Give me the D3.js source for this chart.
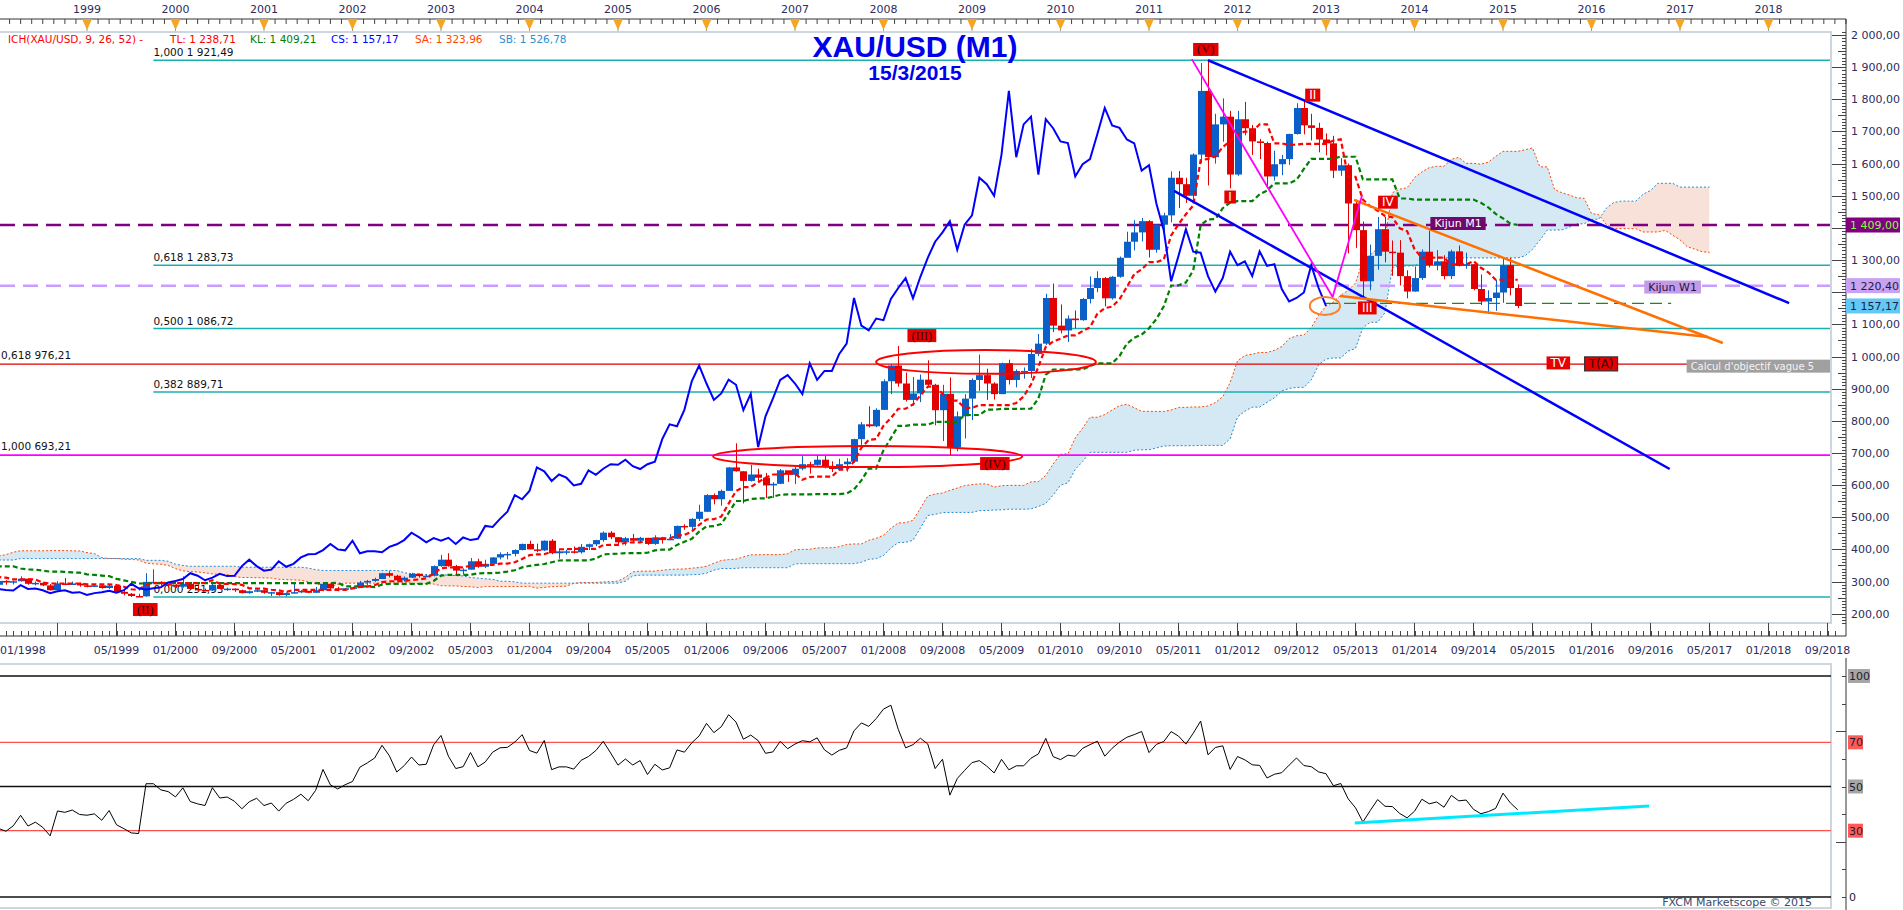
<!DOCTYPE html>
<html><head><meta charset="utf-8">
<script src="https://cdn.jsdelivr.net/npm/d3@7"></script>
<style>body{margin:0;background:#fff;overflow:hidden}svg{display:block}</style>
</head><body><svg id="c" width="1903" height="910"></svg>
<script>
// ---------------- DATA (monthly XAU/USD, first bar = Jan 1991) ----------------
const firstYear = 1991;
const open = [
386,366,363,356,358,357,368,362,347,355,358,366,
353,354,353,342,337,337,343,357,340,349,339,334,
333,330,327,337,355,377,378,401,372,355,369,371,
391,378,381,390,377,387,386,384,386,395,383,383,
383,375,376,392,389,386,387,383,382,384,383,387,
387,405,400,396,392,390,382,385,387,379,379,371,
369,345,362,349,340,345,334,326,325,332,311,296,
290,302,297,301,309,293,296,288,273,294,292,294,
288,287,288,280,287,268,262,255,254,299,299,292,
290,284,293,277,274,272,289,277,278,273,264,270,
273,265,267,258,264,267,271,265,273,293,279,275,
279,282,297,302,308,326,318,304,312,324,317,318,
348,368,348,334,337,363,346,355,375,385,386,398,
417,400,397,427,388,394,394,391,408,416,429,452,
438,422,435,427,436,417,437,429,433,473,470,495,
517,569,556,582,655,643,613,633,623,599,604,646,
632,651,665,663,679,659,650,665,673,743,789,783,
834,923,972,916,865,885,928,912,833,884,718,814,
869,927,942,916,883,979,927,955,955,1008,1040,1182,
1096,1081,1118,1113,1179,1213,1244,1181,1248,1307,1357,1386,
1421,1332,1410,1439,1556,1536,1500,1628,1826,1620,1722,1746,
1566,1738,1710,1669,1664,1560,1598,1614,1692,1773,1719,1711,
1675,1663,1578,1595,1476,1393,1234,1313,1396,1326,1323,1250,
1202,1244,1326,1284,1296,1250,1327,1282,1287,1210,1171,1182,
1199,1284,1213];
const high = [
403,370,367,362,361,370,371,363,358,362,368,367,
360,357,354,343,341,345,360,358,350,349,340,337,
334,331,338,358,378,380,408,406,372,372,374,393,
394,385,391,392,389,396,389,388,398,396,390,384,
383,379,395,396,390,391,390,388,386,387,389,390,
408,417,403,397,396,390,389,390,388,385,383,373,
369,365,362,349,350,346,335,331,336,335,315,300,
306,304,303,316,310,300,298,292,301,311,300,297,
293,292,290,290,289,273,264,262,326,338,301,294,
292,316,296,292,278,294,290,281,279,275,272,276,
274,268,268,266,294,274,271,283,294,294,284,280,
284,302,305,312,327,332,321,316,327,325,323,350,
383,388,352,341,373,371,368,376,391,392,400,418,
427,418,428,432,398,399,409,417,418,430,456,457,
438,439,448,439,436,444,439,448,474,478,497,539,
572,574,586,656,730,643,663,651,638,609,650,641,
656,690,672,693,691,674,682,684,744,796,845,839,
929,976,1033,950,936,944,988,915,912,935,829,883,
932,1006,962,920,981,990,960,966,1024,1070,1195,1227,
1162,1128,1143,1182,1249,1265,1247,1250,1311,1388,1424,1431,
1424,1411,1447,1576,1577,1556,1632,1913,1921.49,1755,1803,1764,
1764,1792,1720,1677,1668,1640,1627,1693,1788,1796,1755,1727,
1694,1686.35,1617,1600,1488,1420,1348,1434,1434,1361,1362,1268,
1280,1333,1392,1331,1315,1332,1345.35,1323,1288,1255,1206,1239,
1307,1307,1224];
const low = [
366,357,350,352,353,356,358,343,346,355,356,351,
350,350,341,335,334,336,342,337,339,338,332,331,
327,326,326,336,353,365,376,345,349,352,360,370,
377,376,378,369,375,382,380,376,385,380,381,375,
372,371,373,388,383,384,382,380,381,380,381,385,
386,399,393,389,388,380,380,384,377,376,370,367,
342,340,347,335,337,333,315,318,320,309,291,283,
278,290,291,300,290,288,286,272,273,289,290,284,
282,283,278,277,267,257,251.93,252,253,295,287,280,
280,281,275,273,270,271,276,271,268,263,262,268,
262,255,256,254,263,264,264,265,270,277,270,271,
277,281,288,299,308,313,302,300,311,312,315,316,
346,346,320,322,337,343,342,354,369,369,378,397,
400,391,395,385,371,384,387,387,398,410,424,432,
415,412,424,422,414,414,418,429,433,461,458,488,
516,540,536,582,642,543,611,613,560,560,603,610,
603,646,636,661,652,641,646,642,669,725,779,780,
834,883,906,860,847,858,905,786,737,692,705,745,
802,893,865,866,883,913,904,931,933,1001,1036,1076,
1072,1045,1088,1111,1165,1200,1156,1177,1245,1310,1330,1358,
1308,1323,1381,1417,1462,1478,1478,1601,1532,1600,1668,1523,
1562,1688,1627,1614,1527,1547,1564,1596,1690,1691,1672,1635,
1626,1555,1562,1321,1338,1180,1206,1270,1293,1251,1221,1181,
1202,1238,1277,1268,1240,1241,1280,1273,1206,1160,1132.07,1142,
1167,1190,1150];
const close = [
366,363,356,358,357,368,362,347,355,358,366,353,
354,353,342,337,337,343,357,340,349,339,334,333,
330,327,337,355,377,378,401,372,355,369,371,391,
378,381,390,377,387,386,384,386,395,383,383,383,
375,376,392,389,386,387,383,382,384,383,387,387,
405,400,396,392,390,382,385,387,379,379,371,369,
345,362,349,340,345,334,326,325,332,311,296,290,
302,297,301,309,293,296,288,273,294,292,294,288,
287,288,280,287,268,262,255,254,299,299,292,290,
284,293,277,274,272,289,277,278,273,264,270,273,
265,267,258,264,267,271,265,273,293,279,275,279,
282,297,302,308,326,318,304,312,324,317,318,348,
368,348,334,337,363,346,355,375,385,386,398,417,
400,397,427,388,394,394,391,408,416,429,452,438,
422,435,427,436,417,437,429,433,473,470,495,517,
569,556,582,655,643,613,633,623,599,604,646,632,
651,665,663,679,659,650,665,673,743,789,783,834,
923,972,916,865,885,928,912,833,884,718,814,869,
927,942,916,883,979,927,955,955,1008,1040,1182,1096,
1081,1118,1113,1179,1213,1244,1181,1248,1307,1357,1386,1421,
1332,1410,1439,1556,1536,1500,1628,1826,1620,1722,1746,1566,
1738,1710,1669,1664,1560,1598,1614,1692,1773,1719,1711,1675,
1663,1578,1595,1476,1393,1234,1313,1396,1326,1323,1250,1202,
1244,1326,1284,1296,1250,1327,1282,1287,1210,1171,1182,1199,
1284,1213,1157.17];

// Ichimoku / RSI settings
const tenkanLen = 9, kijunLen = 26, spanBLen = 52, shift = 26, rsiLen = 14;

// Axis ticks (1 200 and 1 400 are hidden behind the marker boxes in the reference)
const priceTicks = [200,300,400,500,600,700,800,900,1000,1100,1300,1500,1600,1700,1800,1900,2000];
const yearLabels = [1999,2000,2001,2002,2003,2004,2005,2006,2007,2008,2009,2010,2011,2012,2013,2014,2015,2016,2017,2018];
const rsiLevels = [100,70,50,30,0];

// Annotations (month index: 0 = Jan 2000; prices)
const fibLevels = [1921.49, 1283.73, 1086.72, 889.71, 251.93];
const fibLabels = ["1,000 1 921,49","0,618 1 283,73","0,500 1 086,72","0,382 889,71","0,000 251,93"];
const fibStartMonth = -3;
const fib2Levels = [976.21, 693.21];
const fib2Labels = ["0,618 976,21","1,000 693,21"];
const kijunM1 = 1409.00, kijunW1 = 1220.40;
const supportLevel = 1165, supportFrom = 156, supportTo = 202.8;
const blueTrends = [[[140,1921.49],[218.8,1166]], [[135.4,1515],[202.6,650]]];
const orangeTrends = [[[159.8,1487],[209.8,1042]], [[157.9,1188],[207.8,1061]]];
const waveLine = [[137.8,1925],[156.9,1185],[160.9,1502]];
const ellipses = [[95,124.8,1020,946,"#ff0000"],[72.9,114.8,722,656,"#ff0000"],[153.8,157.9,1185,1129,"#ff7f27"]];
const waveTags = [
  [139.7,1955,"(V)","serif"],[154.2,1813,"II","sans"],[143.0,1496,"I","sans"],
  [164.4,1480,"IV","sans"],[161.6,1151,"III","sans"],[101.2,1065,"(III)","serif"],
  [111.1,667,"(IV)","serif"],[-4.1,213,"(II)","serif"],[187.5,980,"TV","sans"],[193.3,977,"T(A)","boxed"]];
const rsiTrend = [[159.9,33.5],[199.8,41.2]];

// ---------------- SETUP ----------------
const svg = d3.select("#c");
const PR = 1831, PT = 32, PB = 623, AX = 1846, RT = 664, RB = 908;
const x = d3.scaleLinear().domain([0,216]).range([175.5,1768.5]);
const y = d3.scaleLinear().domain([200,2000]).range([613.7,35]);
const yr = d3.scaleLinear().domain([0,100]).range([897,676]);
const mOf = i => (firstYear-2000)*12 + i;
const N = close.length;
const SANS = "'DejaVu Sans', sans-serif";
const navy = "#2c2c5e";
const fmt = d3.formatLocale({decimal:",",thousands:" ",grouping:[3],currency:["",""]}).format(",.2f");

// Indicators
function mid(n,i){ if(i<n-1) return null; let h=-Infinity,l=Infinity; for(let k=i-n+1;k<=i;k++){h=Math.max(h,high[k]);l=Math.min(l,low[k]);} return (h+l)/2; }
const tenkan = d3.range(N).map(i=>mid(tenkanLen,i));
const kijun = d3.range(N).map(i=>mid(kijunLen,i));
const spanA = d3.range(N).map(i=> tenkan[i]!=null && kijun[i]!=null ? (tenkan[i]+kijun[i])/2 : null);
const spanB = d3.range(N).map(i=>mid(spanBLen,i));
const rsi = new Array(N).fill(null);
{ let ag=0, al=0;
  for(let i=1;i<N;i++){ const ch=close[i]-close[i-1], g=Math.max(ch,0), l=Math.max(-ch,0);
    if(i<=rsiLen){ ag+=g; al+=l; if(i===rsiLen){ag/=rsiLen; al/=rsiLen; rsi[i]=100-100/(1+ag/al);} }
    else { ag=(ag*(rsiLen-1)+g)/rsiLen; al=(al*(rsiLen-1)+l)/rsiLen; rsi[i]= al===0?100:100-100/(1+ag/al); } } }

const defs = svg.append("defs");
defs.append("clipPath").attr("id","clipMain").append("rect").attr("x",0).attr("y",PT).attr("width",PR).attr("height",PB-PT);
defs.append("clipPath").attr("id","clipRsi").append("rect").attr("x",0).attr("y",RT).attr("width",PR).attr("height",RB-RT);

// ---------------- MAIN PANEL ----------------
const main = svg.append("g").attr("clip-path","url(#clipMain)");

// cloud
const cloud = d3.range(N).filter(i=>spanA[i]!=null && spanB[i]!=null).map(i=>({m:mOf(i)+shift,a:spanA[i],b:spanB[i]}));
defs.append("clipPath").attr("id","abovB").append("path").attr("d", d3.area().x(d=>x(d.m)).y0(0).y1(d=>y(d.b))(cloud));
defs.append("clipPath").attr("id","belowB").append("path").attr("d", d3.area().x(d=>x(d.m)).y0(d=>y(d.b)).y1(1000)(cloud));
const between = d3.area().x(d=>x(d.m)).y0(d=>y(d.b)).y1(d=>y(d.a));
main.append("g").attr("clip-path","url(#abovB)").append("path").attr("d",between(cloud)).attr("fill","#d5e9f5");
main.append("g").attr("clip-path","url(#belowB)").append("path").attr("d",between(cloud)).attr("fill","#f8e1d8");
main.append("path").attr("d",d3.line().x(d=>x(d.m)).y(d=>y(d.a))(cloud)).attr("fill","none").attr("stroke","#ff4500").attr("stroke-width",1).attr("stroke-dasharray","2,2");
main.append("path").attr("d",d3.line().x(d=>x(d.m)).y(d=>y(d.b))(cloud)).attr("fill","none").attr("stroke","#1e8ad6").attr("stroke-width",1).attr("stroke-dasharray","2,2");

// horizontal levels
fibLevels.forEach((p,k)=>{
  main.append("line").attr("x1",x(fibStartMonth)).attr("x2",PR).attr("y1",y(p)).attr("y2",y(p)).attr("stroke","#1aafb0").attr("stroke-width",1.5);
  main.append("text").attr("x",x(fibStartMonth)).attr("y",y(p)-4).style("font",`10.5px ${SANS}`).attr("fill","#111").text(fibLabels[k]);
});
fib2Levels.forEach((p,k)=>{
  main.append("line").attr("x1",0).attr("x2",PR).attr("y1",y(p)).attr("y2",y(p)).attr("stroke",k===0?"#e00000":"#ff00ff").attr("stroke-width",k===0?1.2:1.6);
  main.append("text").attr("x",1).attr("y",y(p)-5).style("font",`10.5px ${SANS}`).attr("fill","#111").text(fib2Labels[k]);
});
main.append("line").attr("x1",0).attr("x2",PR).attr("y1",y(kijunM1)).attr("y2",y(kijunM1)).attr("stroke","#800080").attr("stroke-width",2.5).attr("stroke-dasharray","15,8");
main.append("line").attr("x1",0).attr("x2",PR).attr("y1",y(kijunW1)).attr("y2",y(kijunW1)).attr("stroke","#c99cff").attr("stroke-width",2.5).attr("stroke-dasharray","15,8");
main.append("line").attr("x1",x(supportFrom)).attr("x2",x(supportTo)).attr("y1",y(supportLevel)).attr("y2",y(supportLevel)).attr("stroke","#1a8a1a").attr("stroke-width",1.2).attr("stroke-dasharray","12,6");

// candles
const cg = main.append("g");
d3.range(N).forEach(i=>{
  const cx = Math.round(x(mOf(i)))+0.5, up = close[i]>=open[i], col = up?"#0b5fc8":"#e20000";
  cg.append("line").attr("x1",cx).attr("x2",cx).attr("y1",y(high[i])).attr("y2",y(low[i])).attr("stroke",col).attr("stroke-width",1);
  const t=y(Math.max(open[i],close[i])), b=y(Math.min(open[i],close[i]));
  cg.append("rect").attr("x",cx-3.5).attr("y",t).attr("width",7).attr("height",Math.max(1.5,b-t)).attr("fill",col);
});

// tenkan / kijun / chikou
const ln = d3.line().defined(d=>d.v!=null).x(d=>x(d.m)).y(d=>y(d.v));
main.append("path").attr("d",ln(d3.range(N).map(i=>({m:mOf(i),v:kijun[i]})))).attr("fill","none").attr("stroke","#008000").attr("stroke-width",2.2).attr("stroke-dasharray","5,3");
main.append("path").attr("d",ln(d3.range(N).map(i=>({m:mOf(i),v:tenkan[i]})))).attr("fill","none").attr("stroke","#ff0000").attr("stroke-width",2.2).attr("stroke-dasharray","5,3");
main.append("path").attr("d",ln(d3.range(N).map(i=>({m:mOf(i)-shift,v:close[i]})))).attr("fill","none").attr("stroke","#0000ff").attr("stroke-width",2);

// trendlines
const tl = d3.line().x(d=>x(d[0])).y(d=>y(d[1]));
blueTrends.forEach(s=>main.append("path").attr("d",tl(s)).attr("stroke","#0000ff").attr("stroke-width",2.5).attr("fill","none"));
orangeTrends.forEach(s=>main.append("path").attr("d",tl(s)).attr("stroke","#ff7000").attr("stroke-width",2.5).attr("fill","none"));
main.append("path").attr("d",tl(waveLine)).attr("stroke","#ff00ff").attr("stroke-width",1.8).attr("fill","none");
ellipses.forEach(e=>{
  const cx=(x(e[0])+x(e[1]))/2, cy=(y(e[2])+y(e[3]))/2;
  main.append("ellipse").attr("cx",cx).attr("cy",cy).attr("rx",(x(e[1])-x(e[0]))/2).attr("ry",(y(e[3])-y(e[2]))/2).attr("fill","none").attr("stroke",e[4]).attr("stroke-width",2);
});

// tags
function tag(g,cx,cy,text,bg,fg,font,border,h){
  h=h||13;
  const t=g.append("text").attr("x",cx).attr("y",cy+4).attr("text-anchor","middle").style("font",font).attr("fill",fg).text(text);
  const w=t.node().getComputedTextLength()+8;
  g.insert("rect",()=>t.node()).attr("x",cx-w/2).attr("y",cy-h/2).attr("width",w).attr("height",h).attr("fill",bg).attr("stroke",border||"none").attr("stroke-width",1.2);
}
waveTags.forEach(d=>{
  const cx=x(d[0]), cy=y(d[1]);
  if(d[3]==="serif") tag(main,cx,cy,d[2],"#e60000","#3a0000","12.5px 'Liberation Serif', serif");
  else if(d[3]==="boxed") tag(main,cx,cy,d[2],"#e60000","#300000",`12px ${SANS}`,"#333",14);
  else tag(main,cx,cy,d[2],"#e60000","#ffffff",`12px ${SANS}`);
});
tag(main,x(173.9),y(1413.7),"Kijun M1","#6e0a6e","#ffffff",`11px ${SANS}`);
tag(main,x(203),y(1216),"Kijun W1","#c39be6","#2a1040",`11px ${SANS}`);
{ const g=main.append("g"), lx=x(204.9), cy=y(970);
  g.append("rect").attr("x",lx).attr("y",cy-6.5).attr("width",200).attr("height",13).attr("fill","#a0a0a0");
  g.append("text").attr("x",lx+4).attr("y",cy+4).style("font",`10px ${SANS}`).attr("fill","#f4f4f4").text("Calcul d'objectif vague 5"); }

// panel borders
svg.append("rect").attr("x",-2).attr("y",PT).attr("width",PR+2).attr("height",PB-PT).attr("fill","none").attr("stroke","#cdd6df").attr("stroke-width",2);
svg.append("rect").attr("x",-2).attr("y",RT).attr("width",PR+2).attr("height",RB-RT).attr("fill","none").attr("stroke","#cdd6df").attr("stroke-width",2);

// title & legend
svg.append("text").attr("x",915).attr("y",57).attr("text-anchor","middle").style("font","bold 30px 'Liberation Sans', Arial, sans-serif").attr("fill","#0000ee").text("XAU/USD (M1)");
svg.append("text").attr("x",915).attr("y",80).attr("text-anchor","middle").style("font","bold 21px 'Liberation Sans', Arial, sans-serif").attr("fill","#0000ee").text("15/3/2015");
const L=N-1, TL=tenkan[L], KL=kijun[L];
const legend=[[8,"#ff0000",`ICH(XAU/USD, ${tenkanLen}, ${kijunLen}, ${spanBLen}) -`],[170,"#ff0000","TL: "+fmt(TL)],[250,"#008000","KL: "+fmt(KL)],
  [331,"#0000ff","CS: "+fmt(close[L])],[415,"#ff4500","SA: "+fmt((TL+KL)/2)],[499,"#2b8fd0","SB: "+fmt(spanB[L])]];
legend.forEach(d=>svg.append("text").attr("x",d[0]).attr("y",43).style("font",`10.5px ${SANS}`).attr("fill",d[1]).text(d[2]));

// ---------------- TOP AXIS ----------------
svg.append("line").attr("x1",0).attr("x2",AX).attr("y1",19).attr("y2",19).attr("stroke","#333");
for(let t=-24;t<=230;t+=1.5){ const xx=x(t); if(xx>=0&&xx<=AX) svg.append("line").attr("x1",xx).attr("x2",xx).attr("y1",19).attr("y2",24).attr("stroke","#444"); }
yearLabels.forEach(yy=>{
  const xx=x((yy-2000)*12);
  svg.append("line").attr("x1",xx).attr("x2",xx).attr("y1",19).attr("y2",31).attr("stroke","#999");
  svg.append("path").attr("d",`M${xx-5},19L${xx+5},19L${xx},30Z`).attr("fill","#f5a521");
  svg.append("text").attr("x",xx).attr("y",13).attr("text-anchor","middle").style("font",`11px ${SANS}`).attr("fill",navy).text(yy);
});

// ---------------- BOTTOM TIME AXIS ----------------
svg.append("line").attr("x1",0).attr("x2",AX).attr("y1",636).attr("y2",636).attr("stroke","#333");
for(let t=-24;t<=225;t++){ const xx=Math.round(x(t))+0.5; if(xx>=0&&xx<=AX) svg.append("line").attr("x1",xx).attr("x2",xx).attr("y1",631).attr("y2",636).attr("stroke","#444"); }
for(let t=-24;t<=224;t+=8){
  const xx=x(t), mo=((t%12)+12)%12+1, yy=2000+Math.floor(t/12);
  if(xx>=0) svg.append("line").attr("x1",xx).attr("x2",xx).attr("y1",PB).attr("y2",636).attr("stroke","#444");
  if(t===-16) continue;
  const lab=(mo<10?"0":"")+mo+"/"+yy;
  svg.append("text").attr("x",xx<0?0:xx).attr("y",654).attr("text-anchor",xx<0?"start":"middle").style("font",`11px ${SANS}`).attr("fill",navy).text(lab);
}

// ---------------- PRICE AXIS ----------------
svg.append("line").attr("x1",AX).attr("x2",AX).attr("y1",19).attr("y2",636).attr("stroke","#333");
for(let p=150;p<=2030;p+=10){ const yy=Math.round(y(p))+0.5; if(yy<PT||yy>PB+2) continue;
  const len = p%100===0?14:(p%50===0?8:4);
  svg.append("line").attr("x1",AX-len).attr("x2",AX).attr("y1",yy).attr("y2",yy).attr("stroke","#444"); }
priceTicks.forEach(p=>svg.append("text").attr("x",1851).attr("y",y(p)+4).style("font",`11px ${SANS}`).attr("fill",navy).text(fmt(p)));
function axisBox(p,text,bg,fg){ const cy=y(p);
  svg.append("rect").attr("x",AX).attr("y",cy-7.5).attr("width",54).attr("height",15).attr("fill",bg);
  svg.append("text").attr("x",1850).attr("y",cy+4).style("font",`11px ${SANS}`).attr("fill",fg).text(text); }
axisBox(kijunM1,fmt(kijunM1),"#800080","#7dff3c");
axisBox(kijunW1,fmt(kijunW1),"#c9a2f2","#1d1d40");
axisBox(close[L],fmt(close[L]),"#62c8f5","#1d1d40");

// ---------------- RSI PANEL ----------------
const rg = svg.append("g").attr("clip-path","url(#clipRsi)");
rsiLevels.forEach(v=>rg.append("line").attr("x1",0).attr("x2",PR).attr("y1",yr(v)).attr("y2",yr(v)).attr("stroke",(v===70||v===30)?"#ff5050":"#111").attr("stroke-width",(v===70||v===30)?1.2:1.6));
rg.append("path").attr("d",d3.line().defined(d=>d.v!=null).x(d=>x(d.m)).y(d=>yr(d.v))(d3.range(N).map(i=>({m:mOf(i),v:rsi[i]})))).attr("fill","none").attr("stroke","#000").attr("stroke-width",1);
rg.append("path").attr("d",d3.line().x(d=>x(d[0])).y(d=>yr(d[1]))(rsiTrend)).attr("stroke","#00e8ff").attr("stroke-width",3).attr("fill","none");
svg.append("line").attr("x1",AX).attr("x2",AX).attr("y1",RT-6).attr("y2",RB+2).attr("stroke","#333");
for(let v=0;v<=100;v+=12.5){ const yy=Math.round(yr(v))+0.5; const len=(v===25||v===75)?10:4;
  svg.append("line").attr("x1",AX-len).attr("x2",AX).attr("y1",yy).attr("y2",yy).attr("stroke","#444"); }
rsiLevels.forEach(v=>{ const cy=yr(v);
  if(v!==0){ svg.append("rect").attr("x",AX+2).attr("y",cy-7).attr("width",v===100?22:15).attr("height",14).attr("fill",(v===70||v===30)?"#ff5a5a":"#a6a6a6"); }
  svg.append("text").attr("x",AX+3).attr("y",cy+4).style("font",`11px ${SANS}`).attr("fill","#1d1d30").text(v); });
svg.append("text").attr("x",1812).attr("y",906).attr("text-anchor","end").style("font",`11px ${SANS}`).attr("fill","#3a4a6a").text("FXCM Marketscope © 2015");
</script></body></html>
